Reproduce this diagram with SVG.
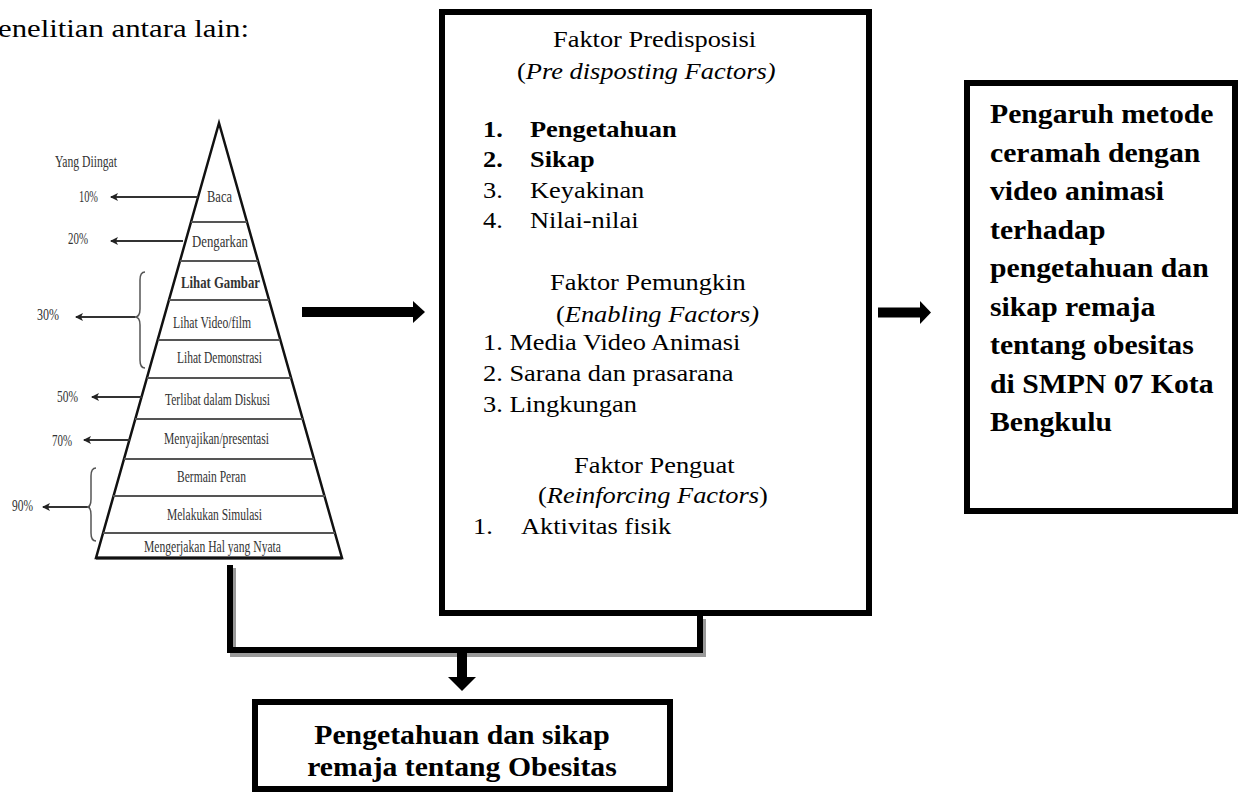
<svg xmlns="http://www.w3.org/2000/svg" width="1241" height="792" viewBox="0 0 1241 792">
<style>
.serif{font-family:"Liberation Serif","Times New Roman",serif;fill:#000}
.mid{font-size:24px}
.b{font-weight:bold}
.i{font-style:italic}
.rb{font-size:27px;font-weight:bold}
.py{font-family:"Liberation Serif","Times New Roman",serif;font-size:16px;fill:#333}
.box{fill:#fff;stroke:#000;stroke-width:6}
.band{stroke:#555;stroke-width:2}
.garrow{stroke:#333;stroke-width:2;fill:none}
.brace{stroke:#555;stroke-width:1.5;fill:none}
.conn{fill:none;stroke:#000;stroke-width:6}
.shadow{fill:none;stroke:#999;stroke-width:6}
</style>
<defs>
<marker id="ah" markerUnits="userSpaceOnUse" markerWidth="10" markerHeight="10" refX="7" refY="4" orient="auto">
<path d="M8,4 L0,0 L2,4 L0,8 Z" fill="#222"/>
</marker>
</defs>
<rect width="1241" height="792" fill="#fff"/>

<text class="serif" font-size="25" transform="translate(-2,37) scale(1.23,1)">enelitian antara lain:</text>

<g id="pyramid">
<polygon points="219,123 96,558 342,558" fill="#fff" stroke="#111" stroke-width="2.5" stroke-linejoin="miter"/>
<line class="band" x1="191" y1="222" x2="247" y2="222"/>
<line class="band" x1="180" y1="261" x2="258" y2="261"/>
<line class="band" x1="169" y1="300" x2="269" y2="300"/>
<line class="band" x1="158" y1="340" x2="280" y2="340"/>
<line class="band" x1="147" y1="378" x2="291" y2="378"/>
<line class="band" x1="135" y1="419" x2="303" y2="419"/>
<line class="band" x1="124" y1="459" x2="314" y2="459"/>
<line class="band" x1="113" y1="496" x2="325" y2="496"/>
<line class="band" x1="103" y1="533" x2="335" y2="533"/>
<line x1="96" y1="558" x2="342" y2="558" stroke="#111" stroke-width="3"/>
<text class="py" x="207" y="202" textLength="25" lengthAdjust="spacingAndGlyphs">Baca</text>
<text class="py" x="192" y="247" textLength="56" lengthAdjust="spacingAndGlyphs">Dengarkan</text>
<text class="py" x="181" y="288" textLength="79" lengthAdjust="spacingAndGlyphs" font-weight="bold" fill="#111">Lihat Gambar</text>
<text class="py" x="173" y="328" textLength="78" lengthAdjust="spacingAndGlyphs">Lihat Video/film</text>
<text class="py" x="177" y="363" textLength="85" lengthAdjust="spacingAndGlyphs">Lihat Demonstrasi</text>
<text class="py" x="165" y="405" textLength="105" lengthAdjust="spacingAndGlyphs">Terlibat dalam Diskusi</text>
<text class="py" x="164" y="444" textLength="105" lengthAdjust="spacingAndGlyphs">Menyajikan/presentasi</text>
<text class="py" x="177" y="482" textLength="69" lengthAdjust="spacingAndGlyphs">Bermain Peran</text>
<text class="py" x="167" y="520" textLength="95" lengthAdjust="spacingAndGlyphs">Melakukan Simulasi</text>
<text class="py" x="144" y="552" textLength="137" lengthAdjust="spacingAndGlyphs">Mengerjakan Hal yang Nyata</text>
</g>

<g id="retention">
<text class="py" x="55" y="167" textLength="62" lengthAdjust="spacingAndGlyphs">Yang Diingat</text>
<text class="py" x="79" y="202" textLength="19" lengthAdjust="spacingAndGlyphs">10%</text>
<text class="py" x="68" y="244" textLength="20" lengthAdjust="spacingAndGlyphs">20%</text>
<text class="py" x="37" y="320" textLength="22" lengthAdjust="spacingAndGlyphs">30%</text>
<text class="py" x="57" y="402" textLength="21" lengthAdjust="spacingAndGlyphs">50%</text>
<text class="py" x="52" y="446" textLength="20" lengthAdjust="spacingAndGlyphs">70%</text>
<text class="py" x="12" y="511" textLength="21" lengthAdjust="spacingAndGlyphs">90%</text>
<line class="garrow" x1="198" y1="197" x2="111" y2="197" marker-end="url(#ah)"/>
<line class="garrow" x1="183" y1="241" x2="111" y2="241" marker-end="url(#ah)"/>
<line class="garrow" x1="135" y1="317" x2="76" y2="317" marker-end="url(#ah)"/>
<line class="garrow" x1="142" y1="397" x2="92" y2="397" marker-end="url(#ah)"/>
<line class="garrow" x1="130" y1="440" x2="84" y2="440" marker-end="url(#ah)"/>
<line class="garrow" x1="90" y1="507" x2="43" y2="507" marker-end="url(#ah)"/>
<path class="brace" d="M145,272 Q140,272 140,280 L140,309 Q140,317 135,317 Q140,317 140,325 L140,360 Q140,368 145,368"/>
<path class="brace" d="M96,468 Q91,468 91,476 L91,499 Q91,507 87,507 Q91,507 91,515 L91,533 Q91,541 96,541"/>
</g>

<g id="connectors">
<polyline class="shadow" points="233,568 233,654 703,654 703,619"/>
<polyline class="conn" points="230,565 230,650 700,650 700,616"/>
<rect x="457" y="653" width="10" height="25" fill="#000"/>
<polygon points="448,677 476,677 462,691" fill="#000"/>
<rect x="302" y="307" width="112" height="10" fill="#000"/>
<polygon points="413,301 413,323 425,312" fill="#000"/>
<rect x="878" y="307.5" width="43" height="10" fill="#000"/>
<polygon points="920,301 920,324 931,312.5" fill="#000"/>
</g>

<g id="factors">
<rect class="box" x="442" y="12" width="427" height="601"/>
<text class="serif mid" transform="translate(553,47) scale(1.1,1)">Faktor Predisposisi</text>
<text class="serif mid" transform="translate(517,79) scale(1.1,1)">(<tspan class="i">Pre disposting Factors)</tspan></text>
<text class="serif mid b" transform="translate(483,137) scale(1.1,1)">1.</text>
<text class="serif mid b" transform="translate(530,137) scale(1.1,1)">Pengetahuan</text>
<text class="serif mid b" transform="translate(483,167) scale(1.1,1)">2.</text>
<text class="serif mid b" transform="translate(530,167) scale(1.1,1)">Sikap</text>
<text class="serif mid" transform="translate(483,198) scale(1.1,1)">3.</text>
<text class="serif mid" transform="translate(530,198) scale(1.1,1)">Keyakinan</text>
<text class="serif mid" transform="translate(483,228) scale(1.1,1)">4.</text>
<text class="serif mid" transform="translate(530,228) scale(1.1,1)">Nilai-nilai</text>
<text class="serif mid" transform="translate(550,290) scale(1.1,1)">Faktor Pemungkin</text>
<text class="serif mid" transform="translate(556,322) scale(1.1,1)">(<tspan class="i">Enabling Factors)</tspan></text>
<text class="serif mid" transform="translate(483,350) scale(1.1,1)">1. Media Video Animasi</text>
<text class="serif mid" transform="translate(483,381) scale(1.1,1)">2. Sarana dan prasarana</text>
<text class="serif mid" transform="translate(483,412) scale(1.1,1)">3. Lingkungan</text>
<text class="serif mid" transform="translate(574,473) scale(1.1,1)">Faktor Penguat</text>
<text class="serif mid" transform="translate(538,503) scale(1.1,1)">(<tspan class="i">Reinforcing Factors</tspan>)</text>
<text class="serif mid" transform="translate(473,534) scale(1.1,1)">1.</text>
<text class="serif mid" transform="translate(521,534) scale(1.1,1)">Aktivitas fisik</text>
</g>

<g id="outcome">
<rect class="box" x="967" y="83" width="268" height="428"/>
<text class="serif rb" transform="translate(990,123) scale(1.1,1)">Pengaruh metode</text>
<text class="serif rb" transform="translate(990,161.5) scale(1.1,1)">ceramah dengan</text>
<text class="serif rb" transform="translate(990,200) scale(1.1,1)">video animasi</text>
<text class="serif rb" transform="translate(990,238.5) scale(1.1,1)">terhadap</text>
<text class="serif rb" transform="translate(990,277) scale(1.1,1)">pengetahuan dan</text>
<text class="serif rb" transform="translate(990,315.5) scale(1.1,1)">sikap remaja</text>
<text class="serif rb" transform="translate(990,354) scale(1.1,1)">tentang obesitas</text>
<text class="serif rb" transform="translate(990,392.5) scale(1.1,1)">di SMPN 07 Kota</text>
<text class="serif rb" transform="translate(990,431) scale(1.1,1)">Bengkulu</text>
</g>

<g id="result">
<rect class="box" x="255" y="702" width="415" height="87"/>
<text class="serif rb" text-anchor="middle" transform="translate(462,744) scale(1.1,1)">Pengetahuan dan sikap</text>
<text class="serif rb" text-anchor="middle" transform="translate(462,776) scale(1.1,1)">remaja tentang Obesitas</text>
</g>
</svg>
